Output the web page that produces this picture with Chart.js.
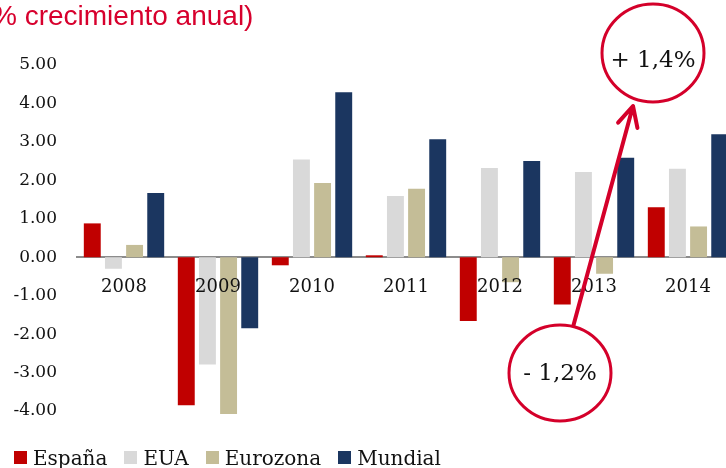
<!DOCTYPE html>
<html lang="es">
<head>
<meta charset="utf-8">
<script src="https://cdn.jsdelivr.net/npm/chart.js@4.4.1/dist/chart.umd.min.js"></script>
<style>
    html, body { margin: 0; padding: 0; background: #fff; overflow: hidden; }
    #wrap { position: relative; width: 745px; height: 468px; }
    #title {
        position: absolute; left: -8px; top: 0; line-height: 1;
        font: 28px "Liberation Sans", Arial, sans-serif; color: #d7002d; white-space: nowrap;
    }
    #legend {
        position: absolute; left: 14px; top: 446px; height: 23px;
        display: flex; align-items: center;
        font: 20px "DejaVu Serif", serif; color: #111; white-space: nowrap;
    }
    #legend .item { display: flex; align-items: center; margin-right: 17px; }
    #legend .box { width: 13px; height: 13px; margin-right: 6px; }
</style>
</head>
<body>
<div id="wrap">
    <canvas id="chart"></canvas>
    <div id="title">% crecimiento anual)</div>
    <div id="legend"></div>
</div>
<script>
const years = ['2008', '2009', '2010', '2011', '2012', '2013', '2014'];
const espana = [0.88, -3.85, -0.21, 0.05, -1.66, -1.23, 1.30];
const eua = [-0.30, -2.79, 2.54, 1.59, 2.32, 2.22, 2.30];
const eurozona = [0.32, -4.08, 1.93, 1.78, -0.65, -0.43, 0.80];
const mundial = [1.67, -1.85, 4.29, 3.07, 2.50, 2.59, 3.20];
const seriesNames = ['España', 'EUA', 'Eurozona', 'Mundial'];
const seriesColors = ['#c00000', '#d9d9d9', '#c4bd97', '#1b3660'];
const yTicks = [-4, -3, -2, -1, 0, 1, 2, 3, 4, 5];
const callouts = ['+ 1,4%', '- 1,2%'];

const accent = '#d4002a';
const serif = '"DejaVu Serif", serif';

// circles + arrow drawn on top of the bars
const calloutPlugin = {
    id: 'callouts',
    afterDraw(chart) {
        const ctx = chart.ctx;
        ctx.save();
        ctx.strokeStyle = accent;
        ctx.lineCap = 'round';
        ctx.lineJoin = 'round';

        // arrow from the lower circle up to the upper one
        const tail = { x: 573, y: 327 };
        const tip = { x: 633, y: 106 };
        const dx = tip.x - tail.x;
        const dy = tip.y - tail.y;
        const len = Math.hypot(dx, dy);
        const ux = dx / len;
        const uy = dy / len;
        ctx.lineWidth = 4;
        ctx.beginPath();
        ctx.moveTo(tail.x, tail.y);
        ctx.lineTo(tip.x, tip.y);
        ctx.moveTo(tip.x - ux * 20 + uy * 10, tip.y - uy * 20 - ux * 10);
        ctx.lineTo(tip.x, tip.y);
        ctx.lineTo(tip.x - ux * 20 - uy * 10, tip.y - uy * 20 + ux * 10);
        ctx.stroke();

        const circles = [
            { x: 653, y: 53, rx: 51, ry: 49, text: callouts[0], ty: 67 },
            { x: 560, y: 373, rx: 51, ry: 48, text: callouts[1], ty: 380 },
        ];
        circles.forEach((c) => {
            ctx.beginPath();
            ctx.ellipse(c.x, c.y, c.rx, c.ry, 0, 0, Math.PI * 2);
            ctx.fillStyle = '#fff';
            ctx.fill();
            ctx.lineWidth = 3;
            ctx.stroke();
            ctx.fillStyle = '#111';
            ctx.font = `23px ${serif}`;
            ctx.textAlign = 'center';
            ctx.textBaseline = 'alphabetic';
            ctx.fillText(c.text, c.x, c.ty);
        });
        ctx.restore();
    },
};

const datasets = [espana, eua, eurozona, mundial].map((values, i) => ({
    label: seriesNames[i],
    data: values,
    backgroundColor: seriesColors[i],
    borderWidth: 0,
    categoryPercentage: 0.9,
    barPercentage: 0.8,
    clip: false,
}));

new Chart(document.getElementById('chart'), {
    type: 'bar',
    data: { labels: years, datasets },
    plugins: [calloutPlugin],
    options: {
        responsive: true,
        maintainAspectRatio: false,
        animation: false,
        layout: { padding: { left: 0, right: 10, top: 65, bottom: 57 } },
        plugins: {
            legend: { display: false },
            tooltip: { enabled: false },
        },
        scales: {
            x: {
                position: { y: 0 },
                grid: { display: false, drawTicks: false },
                border: { display: true, color: '#8c8c8c', width: 2 },
                ticks: {
                    z: 1,
                    color: '#111',
                    padding: 19,
                    font: { family: serif, size: 18 },
                },
            },
            y: {
                min: -4,
                max: 5,
                grid: { display: false, drawTicks: false },
                border: { display: false },
                afterBuildTicks(scale) {
                    scale.ticks = yTicks.map((value) => ({ value }));
                },
                afterFit(scale) {
                    scale.width = 77;
                },
                ticks: {
                    color: '#111',
                    padding: 20,
                    font: { family: serif, size: 17 },
                    callback(value) {
                        return Number(value).toFixed(2);
                    },
                },
            },
        },
    },
});

const legend = document.getElementById('legend');
seriesNames.forEach((name, i) => {
    const item = document.createElement('span');
    item.className = 'item';
    const box = document.createElement('span');
    box.className = 'box';
    box.style.background = seriesColors[i];
    item.appendChild(box);
    item.appendChild(document.createTextNode(name));
    legend.appendChild(item);
});
</script>
</body>
</html>
